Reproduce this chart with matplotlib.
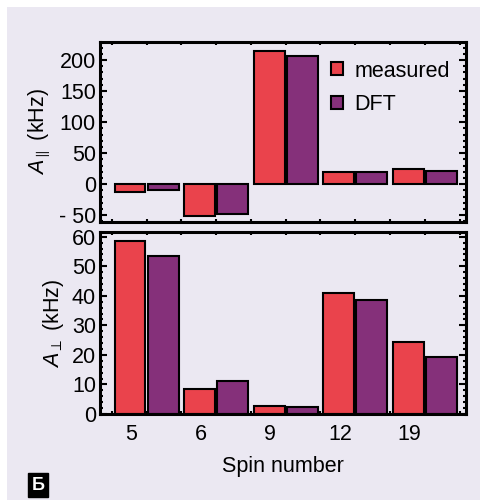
import matplotlib.pyplot as plt
import numpy as np
from matplotlib.patches import Rectangle
from matplotlib.ticker import FixedLocator

plt.rcParams["font.family"] = ["Liberation Sans", "DejaVu Sans"]
plt.rcParams["mathtext.fontset"] = "custom"
plt.rcParams["mathtext.rm"] = "Liberation Sans"
plt.rcParams["mathtext.it"] = "Liberation Sans:italic"

# data
spins = ["5", "6", "9", "12", "19"]
a_par_measured = [-12, -51, 215, 20, 24]
a_par_dft = [-10, -48, 206, 20, 21]
a_perp_measured = [58.5, 8.5, 2.8, 40.8, 24.5]
a_perp_dft = [53.5, 11.0, 2.3, 38.5, 19.2]

red = "#ea434c"
purple = "#85307a"
bg = "#ebe8f2"
fs = 15.5

fig = plt.figure(figsize=(4.81, 5.04), dpi=100)
fig.patch.set_facecolor("white")
# lavender panel with a thin white margin on the left, top and bottom
fig.patches.append(Rectangle((7 / 481, 4 / 504), 1, 1 - 11 / 504,
                             transform=fig.transFigure, facecolor=bg,
                             edgecolor="none", zorder=-10))

ax_top = fig.add_axes([0.208, 0.5595, 0.760, 0.357])
ax_bot = fig.add_axes([0.208, 0.1786, 0.760, 0.3617])

x = np.arange(len(spins))
w = 0.445
off = 0.2375


def style(ax):
    ax.set_facecolor(bg)
    for s in ax.spines.values():
        s.set_linewidth(2.2)
    ax.set_xlim(-0.668, 4.586)
    ax.tick_params(axis="both", which="both", direction="in", top=True, right=True,
                   labelsize=fs, width=1.5, pad=3)
    ax.tick_params(axis="both", which="major", length=5)
    ax.tick_params(axis="both", which="minor", length=2.5)
    ax.tick_params(axis="x", which="major", length=0)
    ax.xaxis.set_minor_locator(FixedLocator(np.arange(-0.5, 4.6, 0.5)))


for ax, meas, dft in [(ax_top, a_par_measured, a_par_dft),
                      (ax_bot, a_perp_measured, a_perp_dft)]:
    style(ax)
    ax.bar(x - off, meas, w, color=red, edgecolor="black", linewidth=1.5,
           label="measured")
    ax.bar(x + off, dft, w, color=purple, edgecolor="black", linewidth=1.5,
           label="DFT")

ax_top.set_ylim(-61, 229)
ax_top.set_yticks([-50, 0, 50, 100, 150, 200])
ax_top.set_yticklabels(["- 50", "0", "50", "100", "150", "200"])
ax_top.yaxis.set_minor_locator(FixedLocator(np.arange(-60, 230, 10)))
ax_top.set_xticks([])
ax_top.set_ylabel(r"$A_{\parallel}$ (kHz)", fontsize=fs, labelpad=4)
ax_top.legend(loc="upper right", bbox_to_anchor=(1.01, 1.005), frameon=False,
              fontsize=fs, handlelength=0.55, handleheight=0.55, handletextpad=0.55,
              labelspacing=0.6)

ax_bot.set_ylim(0, 61.7)
ax_bot.set_yticks([0, 10, 20, 30, 40, 50, 60])
ax_bot.yaxis.set_minor_locator(FixedLocator(np.arange(0, 62, 2)))
ax_bot.set_xticks(x - 0.22)
ax_bot.set_xticklabels(spins)
ax_bot.tick_params(axis="x", which="major", pad=7)
ax_bot.set_ylabel(r"$A_{\perp}$ (kHz)", fontsize=fs, labelpad=4)
ax_bot.set_xlabel("Spin number", fontsize=fs, labelpad=8)

fig.text(38 / 481, 1 - 485 / 504, "Б", fontsize=13, fontweight="bold",
         color="white", ha="center", va="center",
         bbox=dict(boxstyle="square,pad=0.2", facecolor="black", edgecolor="black"))

fig.savefig("out.png", dpi=100, facecolor=fig.get_facecolor())
